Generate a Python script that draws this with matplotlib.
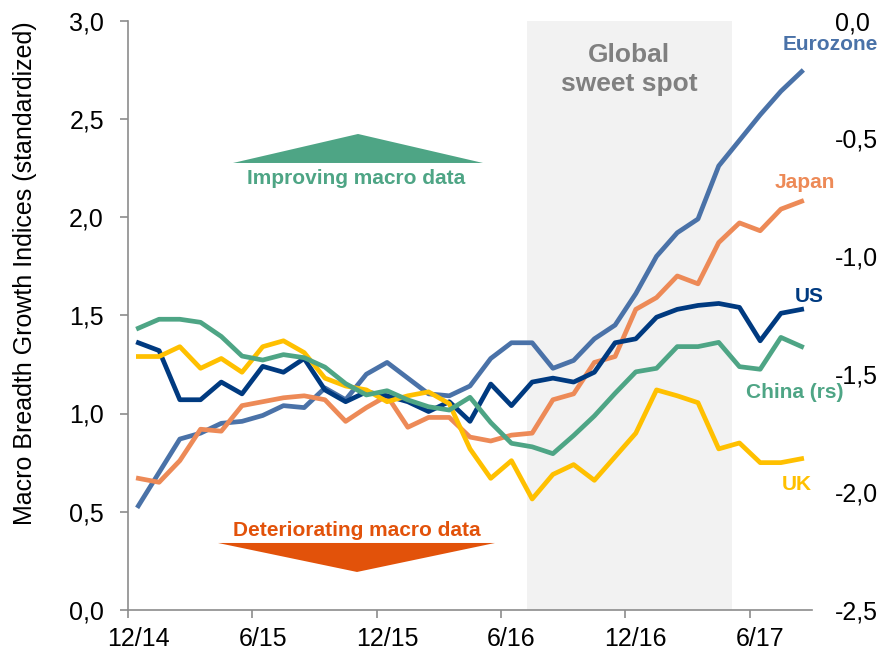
import matplotlib
matplotlib.use('Agg')
import matplotlib.pyplot as plt
from matplotlib.patches import Polygon
import numpy as np

plt.rcParams['font.family'] = ['Liberation Sans', 'DejaVu Sans']

# monthly, 12/14 .. 8/17
eurozone = [0.53, 0.70, 0.87, 0.90, 0.95, 0.96, 0.99, 1.04, 1.03, 1.13, 1.07, 1.20,
            1.26, 1.18, 1.10, 1.09, 1.14, 1.28, 1.36, 1.36, 1.23, 1.27, 1.38, 1.45,
            1.61, 1.80, 1.92, 1.99, 2.26, 2.39, 2.52, 2.64, 2.74]
japan = [0.67, 0.65, 0.76, 0.92, 0.91, 1.04, 1.06, 1.08, 1.09, 1.07, 0.96, 1.03,
         1.09, 0.93, 0.98, 0.98, 0.88, 0.86, 0.89, 0.90, 1.07, 1.10, 1.26, 1.29,
         1.53, 1.59, 1.70, 1.66, 1.87, 1.97, 1.93, 2.04, 2.08]
us = [1.36, 1.32, 1.07, 1.07, 1.16, 1.10, 1.24, 1.21, 1.28, 1.12, 1.06, 1.11,
      1.09, 1.06, 1.01, 1.06, 0.96, 1.15, 1.04, 1.16, 1.18, 1.16, 1.21, 1.36,
      1.38, 1.49, 1.53, 1.55, 1.56, 1.54, 1.37, 1.51, 1.53]
uk = [1.29, 1.29, 1.34, 1.23, 1.28, 1.21, 1.34, 1.37, 1.31, 1.18, 1.14, 1.12,
      1.06, 1.09, 1.11, 1.05, 0.82, 0.67, 0.76, 0.565, 0.69, 0.74, 0.66, 0.78,
      0.90, 1.12, 1.09, 1.055, 0.82, 0.85, 0.75, 0.75, 0.77]
# china on right-hand scale
china = [-1.305, -1.267, -1.267, -1.28, -1.34, -1.423, -1.44, -1.417, -1.43, -1.47, -1.54, -1.588,
         -1.57, -1.609, -1.638, -1.652, -1.598, -1.705, -1.793, -1.808, -1.837, -1.76, -1.677, -1.581,
         -1.49, -1.475, -1.383, -1.383, -1.365, -1.468, -1.479, -1.344, -1.383]

xtick_labels = ['12/14', '6/15', '12/15', '6/16', '12/16', '6/17']
sweet_spot = (18.75, 28.63)

c_euro = '#4A72A8'
c_japan = '#ED8A57'
c_us = '#003A80'
c_uk = '#FFC000'
c_china = '#4EA585'
c_bad = '#E2520A'
c_spine = '#8C8C8C'

x = np.arange(len(eurozone))

fig = plt.figure(figsize=(8.82, 6.55), dpi=100)
ax = fig.add_axes([128 / 882, 1 - 610 / 655, 684 / 882, 589.5 / 655])
ax2 = ax.twinx()

ax.axvspan(*sweet_spot, color='#F2F2F2', lw=0, zorder=0)
lw = 3.4
ax.plot(x, eurozone, color=c_euro, lw=lw, solid_joinstyle='round')
ax.plot(x, japan, color=c_japan, lw=lw, solid_joinstyle='round')
ax.plot(x, us, color=c_us, lw=lw, solid_joinstyle='round')
ax.plot(x, uk, color=c_uk, lw=lw, solid_joinstyle='round')
ax2.plot(x, china, color=c_china, lw=lw, solid_joinstyle='round')

ax.set_xlim(-0.5, len(x) - 0.5)
ax.set_ylim(0, 3)
ax2.set_ylim(-2.5, 0)

ax.set_yticks(np.arange(0, 3.01, 0.5))
ax.set_yticklabels([f'{v:.1f}'.replace('.', ',') for v in np.arange(0, 3.01, 0.5)])
ax2.set_yticks(np.arange(-2.5, 0.01, 0.5))
ax2.set_yticklabels([f'{v:.1f}'.replace('.', ',') for v in np.arange(-2.5, 0.01, 0.5)])

ax.set_xticks(np.arange(0, len(x), 6))
ax.set_xticklabels(xtick_labels)
ax.set_xticks(np.arange(-0.5, len(x) - 1, 6), minor=True)
ax.tick_params(axis='x', which='major', length=0, pad=12.5, labelsize=18)
ax.tick_params(axis='x', which='minor', length=5.8, width=1.2, color=c_spine)
ax.tick_params(axis='y', length=5.8, width=1.2, color=c_spine, pad=11.5, labelsize=18)
ax2.tick_params(axis='y', length=0, pad=16.5, labelsize=18)

for s in ['top', 'right']:
    ax.spines[s].set_visible(False)
for s in ['left', 'bottom']:
    ax.spines[s].set_color(c_spine)
    ax.spines[s].set_linewidth(1.2)
for s in ax2.spines.values():
    s.set_visible(False)

fig.text(25 / 882, 1 - 273 / 655, 'Macro Breadth Growth Indices (standardized)',
         rotation=90, ha='center', va='center', fontsize=18)

# series labels
lab = dict(fontsize=15, fontweight='bold', ha='center', va='center')
fig.text(830 / 882, 1 - 45 / 655, 'Eurozone', color=c_euro, **lab)
fig.text(805 / 882, 1 - 183 / 655, 'Japan', color=c_japan, **lab)
fig.text(809 / 882, 1 - 297 / 655, 'US', color=c_us, **lab)
fig.text(795 / 882, 1 - 393 / 655, 'China (rs)', color=c_china, **lab)
fig.text(797 / 882, 1 - 485 / 655, 'UK', color=c_uk, **lab)

ax.text(np.mean(sweet_spot), 2.75, 'Global\nsweet spot', color='#808080',
        fontsize=19, fontweight='bold', ha='center', va='center', linespacing=1.25)

# improving / deteriorating arrows
up = Polygon([(0.1535, 0.7583), (0.519, 0.7583), (0.3363, 0.8075)], closed=True,
             transform=ax.transAxes, color=c_china, lw=0)
down = Polygon([(0.1316, 0.1137), (0.5365, 0.1137), (0.3348, 0.0645)], closed=True,
               transform=ax.transAxes, color=c_bad, lw=0)
ax.add_patch(up)
ax.add_patch(down)
ax.text(0.3333, 0.7328, 'Improving macro data', transform=ax.transAxes, color=c_china,
        fontsize=15, fontweight='bold', ha='center', va='center')
ax.text(0.3348, 0.1357, 'Deteriorating macro data', transform=ax.transAxes, color=c_bad,
        fontsize=15, fontweight='bold', ha='center', va='center')

fig.savefig('out.png', dpi=100)
